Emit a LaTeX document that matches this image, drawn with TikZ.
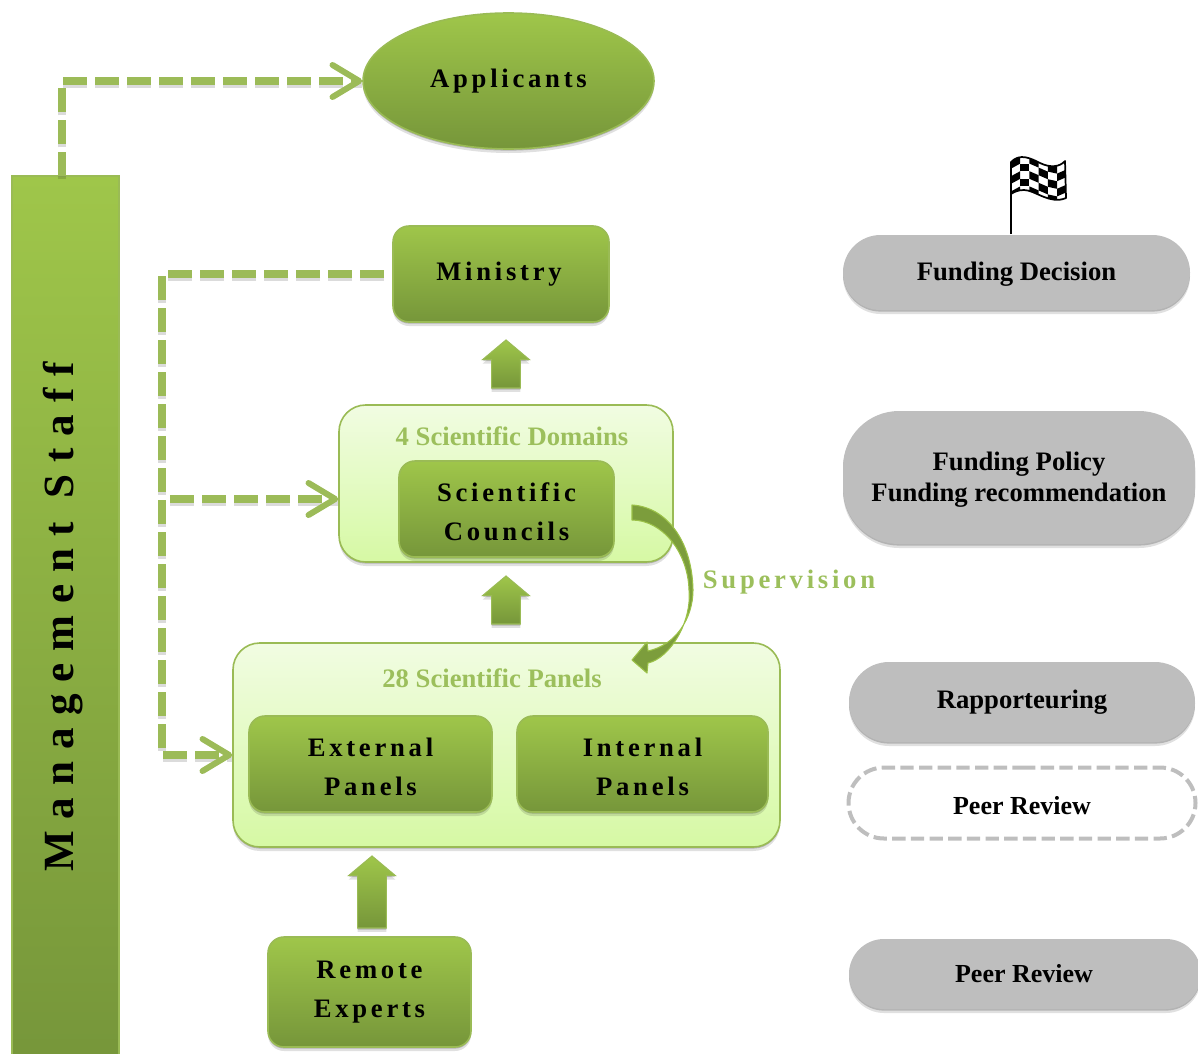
\documentclass[tikz,border=0pt]{standalone}
\usepackage{fontspec}
\setmainfont{Liberation Serif}
\newfontfamily\widefont[LetterSpace=14]{Liberation Serif}
\newfontfamily\hugefont[LetterSpace=28]{Liberation Serif}
\usetikzlibrary{shapes.geometric,shapes.arrows,shapes.misc,shadows,arrows.meta,calc}
\definecolor{gTop}{HTML}{9FC64A}
\definecolor{gBot}{HTML}{76963A}
\definecolor{gEdge}{HTML}{9ABB55}
\definecolor{gLine}{HTML}{9CBB58}
\definecolor{gText}{HTML}{9CBF5C}
\definecolor{paleTop}{HTML}{F1FCE2}
\definecolor{paleBot}{HTML}{D6F9A4}
\definecolor{pill}{HTML}{BEBEBE}
\newcommand{\dnstrut}{\rule{0pt}{18pt}}
\tikzset{
  softshadow/.style={drop shadow={shadow xshift=0pt,shadow yshift=-1.2pt,opacity=.2,fill=black},
                     drop shadow={shadow xshift=0pt,shadow yshift=-3pt,opacity=.12,fill=black}},
  greenbox/.style={rectangle,rounded corners=12pt,top color=gTop,bottom color=gBot,draw=gEdge,line width=1.2pt,
     softshadow,align=center,inner sep=0pt,font=\widefont\fontsize{20}{29}\selectfont\bfseries,text=black},
  palebox/.style={rectangle,rounded corners=20pt,top color=paleTop,bottom color=paleBot,draw=gEdge,line width=1.2pt,
     softshadow,inner sep=0pt},
  greypill/.style={rounded rectangle,fill=pill,softshadow,inner sep=0pt,align=center,
     font=\fontsize{20}{23}\selectfont\bfseries,text=black},
  dashlink/.style={draw=gLine,line width=6pt,dash pattern=on 18pt off 6pt,dash phase=#1,
     -{Straight Barb[length=20pt,width=24pt,line width=4.5pt,round]},
     preaction={draw=black,draw opacity=.14,line width=6pt,dash pattern=on 18pt off 6pt,dash phase=#1,-,transform canvas={yshift=-2.5pt}}},
  dashlink/.default=0pt,
  uparrow/.style={single arrow,shape border rotate=90,top color=gTop,bottom color=gBot,draw=gEdge,line width=.8pt,
     minimum width=35pt,minimum height=36pt,single arrow head extend=6.5pt,single arrow tip angle=100,inner sep=10pt,softshadow},
  paletitle/.style={text=gText,font=\fontsize{20}{22}\selectfont\bfseries,inner sep=0pt},
}
\begin{document}
\begin{tikzpicture}[x=.75pt,y=-.75pt]
\useasboundingbox (0,0) rectangle (1198,1053);

% large containers
\node[palebox,minimum width=334*.75pt,minimum height=157*.75pt] (domains) at (506,483.5) {};
\node[palebox,minimum width=547*.75pt,minimum height=204*.75pt] (panels) at (506.5,745) {};

% green boxes
\node[greenbox,minimum width=107*.75pt,minimum height=890*.75pt,rounded corners=0pt] (mgmt) at (65.5,621) {};
\node[rotate=90,font=\hugefont\fontsize{32.3}{36}\selectfont\bfseries,inner sep=0pt] (mgmtlabel) at (63,617) {Management Staff};
\node[ellipse,top color=gTop,bottom color=gBot,draw=gEdge,line width=1.2pt,softshadow,
      minimum width=291*.75pt,minimum height=136*.75pt,inner sep=0pt,
      font=\widefont\fontsize{20}{29}\selectfont\bfseries] (app) at (508.5,81) {Applicants\hspace{2pt}};
\node[greenbox,minimum width=216*.75pt,minimum height=96*.75pt] (ministry) at (501,274) {Ministry\hspace{3pt}};
\node[greenbox,minimum width=215*.75pt,minimum height=96*.75pt] (councils) at (506.5,509) {\dnstrut Scientific\hspace{3pt}\\Councils\hspace{3pt}};
\node[greenbox,minimum width=243*.75pt,minimum height=96*.75pt] (external) at (370.5,764) {\dnstrut External\hspace{3pt}\\Panels\hspace{3pt}};
\node[greenbox,minimum width=251*.75pt,minimum height=96*.75pt] (internal) at (642.5,764) {\dnstrut Internal\hspace{3pt}\\Panels\hspace{3pt}};
\node[greenbox,minimum width=203*.75pt,minimum height=110*.75pt] (remote) at (369.5,992) {Remote\hspace{3pt}\\Experts\hspace{3pt}};

% container titles
\node[paletitle] (domainstitle) at (512,436) {4 Scientific Domains};
\node[paletitle] (panelstitle) at (492,678) {28 Scientific Panels};

% block arrows
\node[uparrow] (upA) at (506,370) {};
\node[uparrow] (upB) at (506,606) {};
\node[uparrow,minimum height=54pt] (upC) at (372,898) {};

% dashed connectors
\coordinate (mgmtout) at (62,176);
\coordinate (minout) at (384,274);
\coordinate (elbow) at (162,274);
\coordinate (branch) at (162,499);
\coordinate (panelin) at (162,755);
\draw[dashlink] (mgmtout) |- (app.west);
\draw[dashlink] (minout) -- (elbow) -- (panelin) -- (panels.west |- panelin);
\draw[dashlink=18pt] (branch) -- (domains.west |- branch);

% supervision arrow
\fill[gBot!85!gTop,draw=gTop!90!gBot,line width=.8pt,line join=round]
  (632,505) .. controls (666,507) and (692,540) .. (693,590)
  .. controls (693,618) and (676,645) .. (648,651)
  -- (647,642) -- (632,660) -- (647,673) -- (648,663)
  .. controls (670,658) and (692,622) .. (689,590)
  .. controls (688,552) and (662,520) .. (632,520) -- cycle;
\node[font=\widefont\fontsize{20}{23}\selectfont\bfseries,text=gText,inner sep=0pt] (supervision) at (789,582) {Supervision};

% grey pills
\node[greypill,minimum width=347*.75pt,minimum height=75*.75pt] (decision) at (1016.5,272.5) {\rule{0pt}{16pt}Funding Decision};
\node[rectangle,rounded corners=42pt,fill=pill,softshadow,inner sep=0pt,align=center,
      font=\fontsize{20}{23}\selectfont\bfseries,
      minimum width=352*.75pt,minimum height=133*.75pt] (policy) at (1019,477.5) {\rule{0pt}{17pt}Funding Policy\\Funding recommendation};
\node[greypill,minimum width=346*.75pt,minimum height=80*.75pt] (rapp) at (1022,702) {Rapporteuring};
\node[rounded rectangle,draw=pill,fill=white,line width=3pt,dash pattern=on 10pt off 4pt,inner sep=0pt,
      font=\fontsize{19.5}{22}\selectfont\bfseries,
      minimum width=347*.75pt,minimum height=71*.75pt] (peerA) at (1022,803) {\rule{0pt}{18pt}Peer Review};
\node[greypill,minimum width=352*.75pt,minimum height=70*.75pt] (peerB) at (1025,974) {};
\node[font=\fontsize{19.5}{22}\selectfont\bfseries,inner sep=0pt] (peerBlabel) at (1024,974) {Peer Review};

% checkered flag
\draw[black,line width=2.2pt] (1011,234) -- (1011,162);
\begin{scope}
  \path[clip] (1011,162) .. controls (1020,153) and (1030,158) .. (1040,163)
     .. controls (1050,168) and (1060,167) .. (1065,161) -- (1066,198)
     .. controls (1050,205) and (1035,190) .. (1024,190)
     .. controls (1018,190) and (1014,192) .. (1011,194) -- cycle;
  \fill[white] (1005,150) rectangle (1070,210);
  \foreach \c/\ya/\yb in {0/161/156,1/156/156,2/156/160,3/160/164,4/164/166,5/166/162}{
    \foreach \r in {0,...,4}{
      \pgfmathparse{int(mod(\c+\r,2))}
      \ifnum\pgfmathresult=0\relax
        \fill[black] (1011+9.2*\c,\ya+7.6*\r) -- (1020.2+9.2*\c,\yb+7.6*\r)
            -- (1020.2+9.2*\c,\yb+7.6*\r+7.6) -- (1011+9.2*\c,\ya+7.6*\r+7.6) -- cycle;
      \fi
    }
  }
\end{scope}
\draw[black,line width=1.3pt,line join=round] (1011,162) .. controls (1020,153) and (1030,158) .. (1040,163)
     .. controls (1050,168) and (1060,167) .. (1065,161) -- (1066,198)
     .. controls (1050,205) and (1035,190) .. (1024,190)
     .. controls (1018,190) and (1014,192) .. (1011,194) -- cycle;
\end{tikzpicture}
\end{document}
